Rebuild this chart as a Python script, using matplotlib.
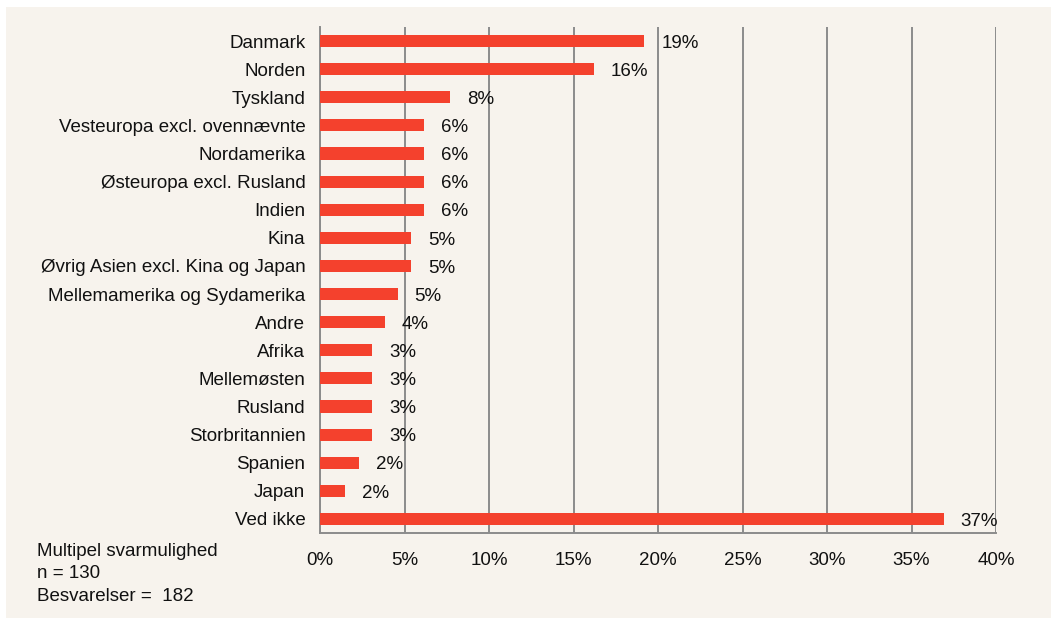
import matplotlib.pyplot as plt
from matplotlib.patches import Rectangle
from matplotlib.ticker import MultipleLocator, FuncFormatter

plt.rcParams['font.family'] = ['Liberation Sans', 'DejaVu Sans']

# share of answers (%), n = 130
categories = [
    "Danmark", "Norden", "Tyskland", "Vesteuropa excl. ovennævnte",
    "Nordamerika", "Østeuropa excl. Rusland", "Indien", "Kina",
    "Øvrig Asien excl. Kina og Japan", "Mellemamerika og Sydamerika",
    "Andre", "Afrika", "Mellemøsten", "Rusland", "Storbritannien",
    "Spanien", "Japan", "Ved ikke",
]
values = [19.2, 16.2, 7.7, 6.15, 6.15, 6.15, 6.15, 5.4, 5.4, 4.6,
          3.85, 3.1, 3.1, 3.1, 3.1, 2.3, 1.5, 36.9]
note = "Multipel svarmulighed\nn = 130\nBesvarelser =  182"

bg = "#F7F3ED"
bar_color = "#F4412D"
grid_color = "#8C8C8C"
fs = 13.5

fig = plt.figure(figsize=(10.51, 6.18), dpi=100)
fig.patch.set_facecolor("white")
fig.patches.append(Rectangle((6 / 1051, 0), 1 - 6 / 1051, 1 - 7 / 618,
                             transform=fig.transFigure, facecolor=bg,
                             edgecolor="none", zorder=-10))

ax = fig.add_axes([320 / 1051, 1 - 533 / 618, 676 / 1051, 506 / 618])
ax.set_facecolor(bg)

pos = list(range(len(categories)))
ax.barh(pos, values, height=0.43, color=bar_color, zorder=3)
for p, v in zip(pos, values):
    ax.text(v + 1.0, p + 0.08, f"{v:.0f}%", va="center", ha="left",
            fontsize=fs, color="#111111", zorder=4)

ax.set_xlim(0, 40)
ax.set_ylim(len(categories) - 0.5, -0.5)
ax.set_yticks(pos)
ax.set_yticklabels(categories)
ax.xaxis.set_major_locator(MultipleLocator(5))
ax.xaxis.set_major_formatter(FuncFormatter(lambda x, _: f"{x:.0f}%"))
ax.tick_params(axis="both", length=0, labelsize=fs, colors="#111111")
ax.tick_params(axis="x", pad=14)
ax.tick_params(axis="y", pad=10.5)

ax.set_axisbelow(True)
ax.grid(axis="x", color=grid_color, linewidth=1.4)
ax.grid(axis="y", visible=False)
for side in ["top", "right"]:
    ax.spines[side].set_visible(False)
for side in ["left", "bottom"]:
    ax.spines[side].set_color(grid_color)
    ax.spines[side].set_linewidth(1.4)

fig.text(37 / 1051, 1 - 543 / 618, note, ha="left", va="top", fontsize=fs,
         color="#111111", linespacing=1.42)

fig.savefig("out.png", dpi=100, facecolor=fig.get_facecolor())
